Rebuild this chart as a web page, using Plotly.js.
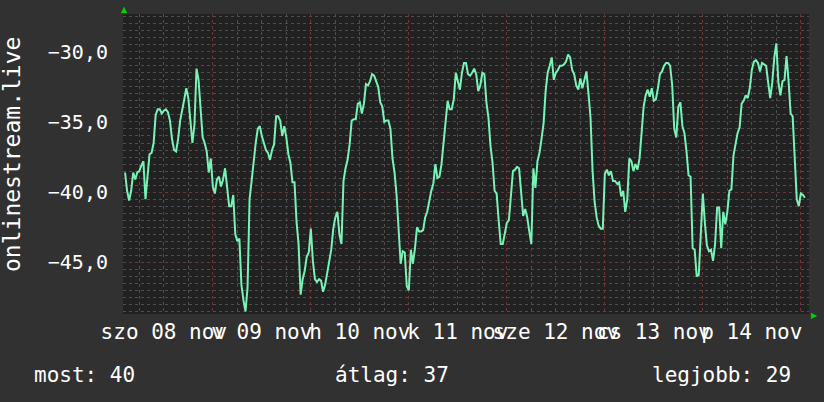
<!DOCTYPE html>
<html>
<head>
<meta charset="utf-8">
<script src="https://cdn.plot.ly/plotly-3.0.1.min.js"></script>
<style>
html,body{margin:0;padding:0;background:#313131;}
#chart{width:824px;height:402px;}
</style>
</head>
<body>
<div id="chart"></div>
<script>
// ---- data (half-hourly samples, starting 2025-11-08 02:30) ----
const startUTC = Date.UTC(2025, 10, 8, 2, 30, 0);
const stepMinutes = 30;
const values = [
  -38.6, -39.9, -40.6, -39.9, -38.6, -39.1, -38.6, -38.5, -38.1, -37.8,
  -40.5, -39.1, -37.3, -37.2, -36.5, -34.5, -34.1, -34.1, -34.4, -34.2,
  -34.1, -34.3, -34.9, -36.2, -37.0, -37.1, -36.2, -34.9, -34.0, -33.4,
  -32.6, -33.3, -34.9, -36.5, -35.2, -31.2, -32.0, -34.5, -36.1, -36.5,
  -37.1, -38.6, -37.6, -39.6, -40.1, -39.1, -38.9, -39.6, -39.1, -38.3,
  -39.9, -41.0, -41.0, -40.2, -43.0, -43.5, -43.3, -46.6, -47.7, -48.5,
  -46.8, -40.5, -39.2, -37.7, -36.5, -35.5, -35.3, -36.0, -36.5, -37.0,
  -37.2, -37.7, -37.0, -36.6, -34.6, -34.6, -34.9, -36.0, -35.3, -36.1,
  -37.3, -37.9, -39.3, -39.3, -42.1, -43.7, -47.3, -46.2, -45.6, -44.6,
  -44.3, -42.6, -44.9, -46.2, -46.4, -46.2, -46.3, -47.1, -46.6, -45.7,
  -44.9, -44.1, -42.6, -41.8, -41.4, -43.0, -43.7, -39.2, -38.3, -37.7,
  -36.6, -34.9, -34.8, -34.8, -33.7, -33.6, -34.4, -33.7, -32.3, -32.4,
  -32.1, -31.6, -31.7, -32.1, -32.5, -33.6, -33.9, -35.0, -34.9, -34.9,
  -35.5, -37.6, -38.6, -40.2, -42.6, -45.1, -44.2, -44.3, -46.7, -47.0,
  -44.1, -45.1, -44.0, -42.5, -42.8, -42.8, -42.7, -41.8, -41.4, -40.5,
  -39.9, -39.4, -38.0, -39.0, -38.9, -38.0, -36.4, -34.7, -33.5, -34.1,
  -34.1, -33.4, -31.5, -32.1, -32.7, -31.5, -30.8, -30.8, -31.6, -31.7,
  -31.5, -31.2, -31.6, -32.8, -32.4, -31.5, -31.6, -33.6, -34.7, -36.7,
  -37.9, -39.9, -40.1, -42.0, -43.7, -43.7, -43.0, -42.2, -42.0, -40.3,
  -38.5, -38.4, -38.2, -38.3, -39.8, -41.7, -41.2, -41.8, -42.8, -43.7,
  -38.3, -39.7, -37.8, -37.2, -36.2, -35.1, -32.8, -31.5, -31.0, -30.4,
  -32.0, -31.5, -31.3, -31.0, -31.0, -30.9, -30.7, -30.2, -30.4, -31.3,
  -31.6, -32.4, -32.7, -31.9, -32.6, -32.0, -31.4, -33.0, -34.7, -38.5,
  -40.7, -41.8, -42.4, -42.6, -42.6, -38.7, -38.4, -38.8, -38.5, -39.2,
  -39.2, -39.4, -39.3, -40.3, -39.9, -41.4, -40.5, -37.6, -37.8, -38.5,
  -38.0, -38.4, -37.6, -35.8, -33.9, -33.1, -32.7, -33.2, -32.6, -33.5,
  -33.4, -32.6, -31.6, -31.4, -31.0, -30.8, -30.8, -31.0, -32.4, -35.5,
  -36.1, -33.9, -33.6, -35.3, -35.8, -37.1, -38.8, -38.9, -44.0, -44.1,
  -46.0, -45.9, -43.3, -40.1, -42.2, -43.8, -44.2, -44.1, -44.9, -43.7,
  -41.1, -41.1, -44.0, -41.4, -42.3, -41.4, -39.9, -39.8, -37.4, -36.7,
  -35.8, -35.4, -33.7, -33.5, -33.1, -33.3, -32.6, -31.3, -30.7, -30.6,
  -30.8, -31.4, -30.8, -30.9, -31.0, -32.2, -33.3, -32.2, -30.4, -29.4,
  -32.2, -33.1, -32.1, -32.0, -30.3, -32.1, -34.4, -34.6, -37.3, -40.5,
  -41.0, -40.1, -40.2, -40.4
];
const xRange = ['2025-11-08 02:00', '2025-11-15 02:00'];
const yRange = [-48.68, -27.31];
const yTicks = [-30, -35, -40, -45];
const dayLines = ['2025-11-09', '2025-11-10', '2025-11-11', '2025-11-12', '2025-11-13', '2025-11-14', '2025-11-15'];
const labelDates = ['2025-11-08 12:00', '2025-11-09 12:00', '2025-11-10 12:00', '2025-11-11 12:00', '2025-11-12 12:00', '2025-11-13 12:00', '2025-11-14 12:00'];
const dayLabels = ['szo 08 nov', 'v 09 nov', 'h 10 nov', 'k 11 nov', 'sze 12 nov', 'cs 13 nov', 'p 14 nov'];
const yTitle = 'onlinestream.live';
const summary = ['most: 40', 'átlag: 37', 'legjobb: 29'];

function fmt(ms) { return new Date(ms).toISOString().slice(0, 19).replace('T', ' '); }
const times = values.map((v, i) => fmt(startUTC + i * stepMinutes * 60e3));

const FONT = 'DejaVu Sans Mono, monospace';
const gridGray = '#4e4e4e';
const gridRed = '#6c3636';

const traces = [
  { x: times, y: values, type: 'scatter', mode: 'lines', xaxis: 'x', yaxis: 'y',
    line: { color: '#78f2b6', width: 2 }, hoverinfo: 'skip', showlegend: false },
  { x: xRange, y: [yRange[0], yRange[0]], type: 'scatter', mode: 'lines', xaxis: 'x2', yaxis: 'y',
    line: { color: 'rgba(0,0,0,0)', width: 0 }, hoverinfo: 'skip', showlegend: false }
];

const layout = {
  width: 824, height: 402,
  margin: { l: 123, r: 15, t: 14, b: 88 },
  paper_bgcolor: '#313131', plot_bgcolor: '#212121',
  separators: ',.',
  font: { family: FONT, color: '#ffffff', size: 20 },
  showlegend: false,
  xaxis: {
    type: 'date', range: xRange,
    tickmode: 'array', tickvals: dayLines, showticklabels: false,
    showgrid: true, gridcolor: gridRed, griddash: 'dot', gridwidth: 1,
    ticks: '', zeroline: false, showline: false,
    minor: { dtick: 6 * 3600e3, showgrid: true, gridcolor: gridGray, griddash: 'dot', gridwidth: 1 }
  },
  xaxis2: {
    type: 'date', overlaying: 'x', matches: 'x', side: 'bottom', anchor: 'y', range: xRange,
    tickmode: 'array', tickvals: labelDates, ticktext: dayLabels,
    tickangle: 0, showgrid: false, ticks: '', zeroline: false, showline: false,
    tickfont: { family: FONT, size: 21, color: '#ffffff' }, ticklabelstandoff: 3
  },
  yaxis: {
    range: yRange, tickmode: 'array', tickvals: yTicks, tickformat: '.1f',
    showgrid: true, gridcolor: gridRed, griddash: 'dot', gridwidth: 1,
    ticks: '', zeroline: false, showline: false,
    tickfont: { family: FONT, size: 20, color: '#ffffff' }, ticklabelstandoff: 14,
    minor: { dtick: 0.5, showgrid: true, gridcolor: gridGray, griddash: 'dot', gridwidth: 1 }
  },
  annotations: [
    { text: yTitle, xref: 'paper', yref: 'paper', x: (12 - 123) / 686, y: (314 - 155) / 300,
      xanchor: 'center', yanchor: 'middle', textangle: -90, showarrow: false,
      font: { family: FONT, size: 23, color: '#ffffff' } },
    { text: summary[0], xref: 'paper', yref: 'paper', x: (32 - 123) / 686, y: (314 - 375) / 300,
      xanchor: 'left', yanchor: 'middle', showarrow: false, font: { family: FONT, size: 21, color: '#ffffff' } },
    { text: summary[1], xref: 'paper', yref: 'paper', x: (333 - 123) / 686, y: (314 - 375) / 300,
      xanchor: 'left', yanchor: 'middle', showarrow: false, font: { family: FONT, size: 21, color: '#ffffff' } },
    { text: summary[2], xref: 'paper', yref: 'paper', x: (650 - 123) / 686, y: (314 - 375) / 300,
      xanchor: 'left', yanchor: 'middle', showarrow: false, font: { family: FONT, size: 21, color: '#ffffff' } },
    { text: '▲', xref: 'paper', yref: 'paper', x: (124 - 123) / 686, y: (314 - 10) / 300,
      xanchor: 'center', yanchor: 'middle', showarrow: false, font: { family: 'DejaVu Sans', size: 8, color: '#00d000' } },
    { text: '▶', xref: 'paper', yref: 'paper', x: (814 - 123) / 686, y: (314 - 315) / 300,
      xanchor: 'center', yanchor: 'middle', showarrow: false, font: { family: 'DejaVu Sans', size: 8, color: '#00d000' } }
  ]
};

Plotly.newPlot('chart', traces, layout, { staticPlot: true, displayModeBar: false });
</script>
</body>
</html>
